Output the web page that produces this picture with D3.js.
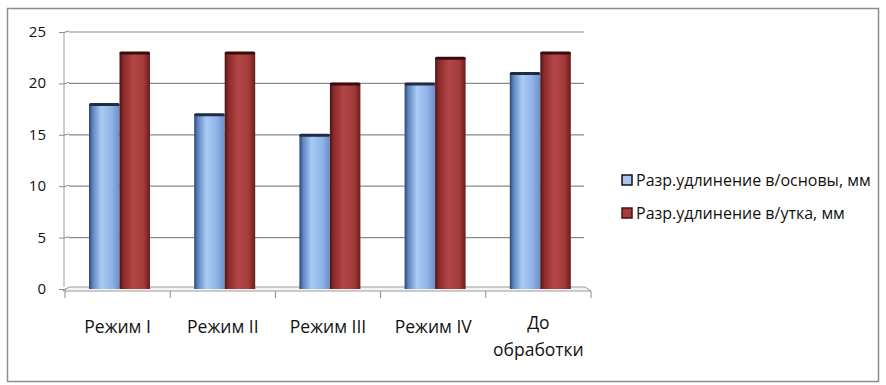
<!DOCTYPE html>
<html>
<head>
<meta charset="utf-8">
<script src="https://cdn.jsdelivr.net/npm/d3@7"></script>
<style>
  body { margin: 0; background: #fff; }
  text { font-family: "Open Sans", "Noto Sans", sans-serif; fill: #111; }
</style>
</head>
<body>
<svg width="886" height="385"></svg>
<script>
var categories = ["Режим I", "Режим II", "Режим III", "Режим IV", "До обработки"];
var seriesNames = ["Разр.удлинение в/основы, мм", "Разр.удлинение в/утка, мм"];
var warpValues = [18, 17, 15, 20, 21];
var weftValues = [23, 23, 20, 22.5, 23];
var yTicks = [0, 5, 10, 15, 20, 25];

var svg = d3.select("svg");

// frame
svg.append("rect")
  .attr("x", 7.5).attr("y", 8.5)
  .attr("width", 871).attr("height", 373)
  .attr("fill", "none").attr("stroke", "#8c8c8c").attr("stroke-width", 1.5);

var plot = { left: 65, right: 591, top: 32, bottom: 289 };

var x0 = d3.scaleBand().domain(categories).range([plot.left, plot.right]);
var x1 = d3.scaleBand().domain([0, 1]).range([24, 85]);
var y = d3.scaleLinear().domain([0, 25]).range([plot.bottom, plot.top]);

// gradients
var defs = svg.append("defs");
function grad(id, stops) {
  var g = defs.append("linearGradient").attr("id", id)
    .attr("x1", "0%").attr("x2", "100%").attr("y1", "0%").attr("y2", "0%");
  stops.forEach(function(s) {
    g.append("stop").attr("offset", s[0]).attr("stop-color", s[1]);
  });
}
grad("gBlue", [["0%", "#2c4670"], ["12%", "#5d85c0"], ["40%", "#a9cbf4"], ["75%", "#8fb3e6"], ["100%", "#6b8fc8"]]);
grad("gRed", [["0%", "#4a1414"], ["12%", "#8a2a2a"], ["45%", "#b44646"], ["80%", "#a23a3a"], ["100%", "#6a1c1c"]]);

// back wall left edge and gridlines
svg.append("line")
  .attr("x1", plot.left - 1).attr("x2", plot.left - 1)
  .attr("y1", y(25)).attr("y2", y(0) - 2)
  .attr("stroke", "#a0a0a0");

svg.selectAll(".grid")
  .data(yTicks.filter(function(d) { return d > 0; }))
  .enter().append("line")
  .attr("x1", plot.left + 4).attr("x2", 584)
  .attr("y1", function(d) { return y(d); })
  .attr("y2", function(d) { return y(d); })
  .attr("stroke", "#8a8a8a").attr("stroke-width", 1.2);

// left ticks with small 3d slant
svg.selectAll(".ytick")
  .data(yTicks)
  .enter().append("path")
  .attr("d", function(d) {
    return "M" + (plot.left - 6) + "," + (y(d) + 0.5) + "L" + (plot.left - 1) + "," + (y(d) + 0.5) + "L" + (plot.left + 4) + "," + (y(d) - 1);
  })
  .attr("fill", "none").attr("stroke", "#8a8a8a");

// floor
svg.append("path")
  .attr("d", "M" + (plot.left - 2) + "," + (plot.bottom + 2) + "L" + (plot.right) + "," + (plot.bottom + 2) +
    "L" + (plot.right - 6) + "," + (plot.bottom - 2) + "L" + (plot.left + 4) + "," + (plot.bottom - 2) + "Z")
  .attr("fill", "#f4f4f4").attr("stroke", "#9a9a9a");

// category ticks
svg.selectAll(".xtick")
  .data(categories.concat(["end"]))
  .enter().append("line")
  .attr("x1", function(d, i) { return plot.left + i * x0.bandwidth(); })
  .attr("x2", function(d, i) { return plot.left + i * x0.bandwidth(); })
  .attr("y1", plot.bottom + 2).attr("y2", plot.bottom + 9)
  .attr("stroke", "#8a8a8a");

// y labels
svg.selectAll(".ylab")
  .data(yTicks)
  .enter().append("text")
  .attr("x", 46).attr("y", function(d) { return y(d) + 5; })
  .attr("text-anchor", "end")
  .style("font-size", "15px")
  .text(function(d) { return d; });

// bars
var rows = categories.map(function(c, i) { return { cat: c, vals: [warpValues[i], weftValues[i]] }; });
var groups = svg.selectAll(".grp")
  .data(rows)
  .enter().append("g")
  .attr("transform", function(d) { return "translate(" + x0(d.cat) + ",0)"; });

groups.selectAll("rect.bar")
  .data(function(d) { return d.vals; })
  .enter().append("rect")
  .attr("class", "bar")
  .attr("x", function(d, i) { return x1(i); })
  .attr("width", x1.bandwidth())
  .attr("y", function(d) { return y(d); })
  .attr("height", function(d) { return y(0) - y(d); })
  .attr("fill", function(d, i) { return i === 0 ? "url(#gBlue)" : "url(#gRed)"; });

groups.selectAll("rect.cap")
  .data(function(d) { return d.vals; })
  .enter().append("rect")
  .attr("class", "cap")
  .attr("x", function(d, i) { return x1(i); })
  .attr("width", x1.bandwidth())
  .attr("y", function(d) { return y(d) - 1; })
  .attr("height", 3)
  .attr("rx", 1.5)
  .attr("fill", function(d, i) { return i === 0 ? "#1e2c44" : "#3a0c0c"; });

// category labels
svg.selectAll(".xlab")
  .data(categories)
  .enter().append("text")
  .attr("text-anchor", "middle")
  .attr("x", function(d) { return x0(d) + x0.bandwidth() / 2; })
  .attr("y", 333)
  .style("font-size", "17.5px")
  .each(function(d) {
    var t = d3.select(this);
    var parts = d === "До обработки" ? ["До", "обработки"] : [d];
    if (parts.length > 1) t.attr("y", 329);
    parts.forEach(function(p, k) {
      t.append("tspan")
        .attr("x", x0(d) + x0.bandwidth() / 2)
        .attr("dy", k === 0 ? 0 : 27)
        .text(p);
    });
  });

// legend
var legend = svg.selectAll(".leg")
  .data(seriesNames)
  .enter().append("g")
  .attr("transform", function(d, i) { return "translate(622," + (175 + i * 33) + ")"; });

legend.append("rect")
  .attr("width", 10).attr("height", 10)
  .attr("fill", function(d, i) { return i === 0 ? "#a9c4ef" : "#a83a3a"; })
  .attr("stroke", function(d, i) { return i === 0 ? "#111" : "#4a1010"; })
  .attr("stroke-width", 1.5);

legend.append("text")
  .attr("x", 14).attr("y", 11)
  .style("font-size", "16px")
  .text(function(d) { return d; });
</script>
</body>
</html>
